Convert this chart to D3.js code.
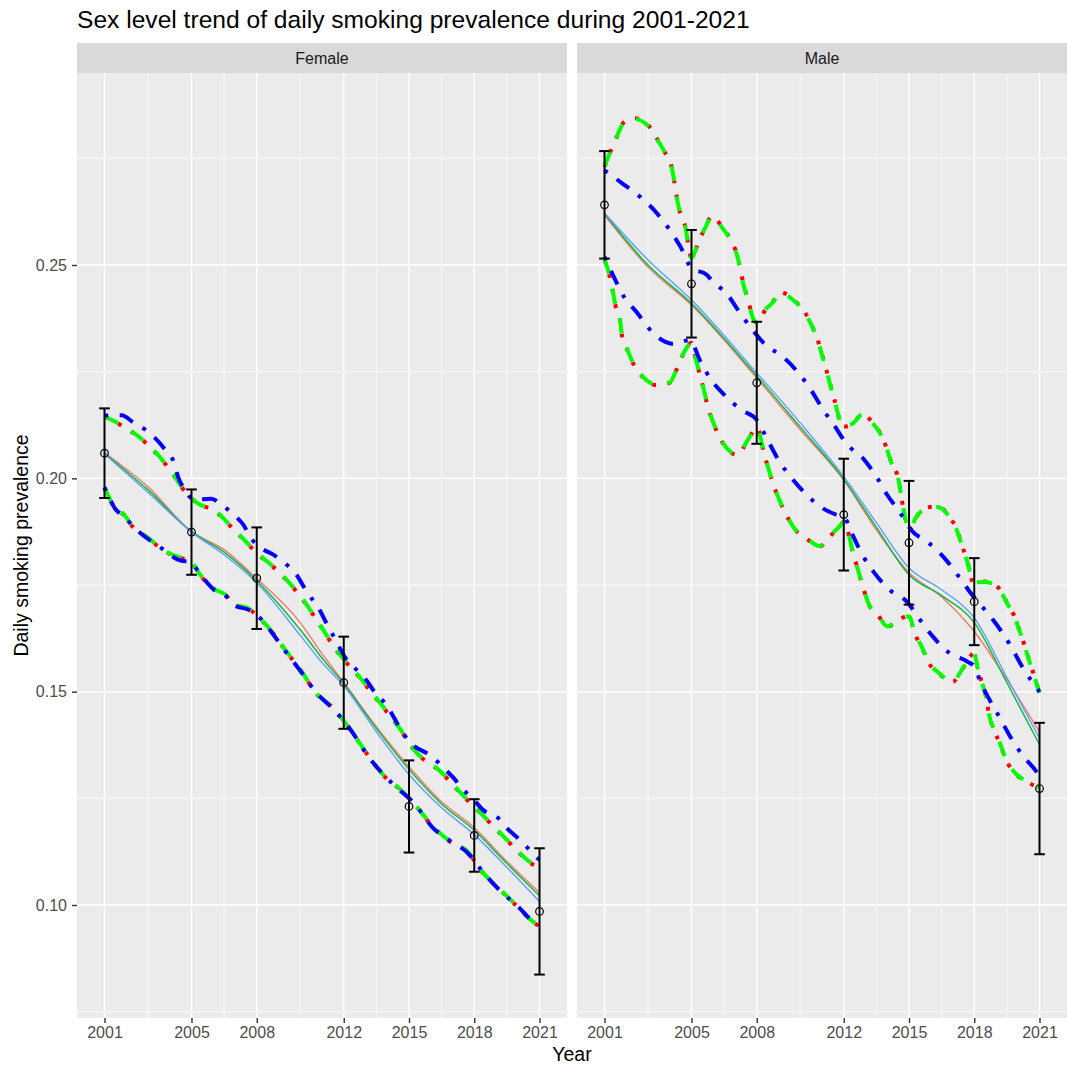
<!DOCTYPE html>
<html>
<head>
<meta charset="utf-8">
<script src="https://cdn.jsdelivr.net/npm/d3@7"></script>
<style>
  body { margin: 0; background: #ffffff; }
  text { font-family: "Liberation Sans", Arial, Helvetica, sans-serif; }
</style>
</head>
<body>
<svg id="chart" width="1067" height="1068"></svg>
<script>
// ---------------- data ----------------
const panels = ["Female", "Male"];
const surveyYears = [2001, 2005, 2008, 2012, 2015, 2018, 2021];
const yTicks = [0.10, 0.15, 0.20, 0.25];

// survey point estimates with 95% intervals
const femaleEstimate = [0.2059, 0.1874, 0.1766, 0.1521, 0.1231, 0.1163, 0.0985];
const femaleLower    = [0.1954, 0.1774, 0.1647, 0.1413, 0.1123, 0.1078, 0.0837];
const femaleUpper    = [0.2164, 0.1974, 0.1885, 0.1629, 0.1339, 0.1248, 0.1133];
const maleEstimate   = [0.2641, 0.2456, 0.2224, 0.1915, 0.1849, 0.1711, 0.1273];
const maleLower      = [0.2515, 0.2330, 0.2081, 0.1784, 0.1704, 0.1609, 0.1119];
const maleUpper      = [0.2767, 0.2582, 0.2367, 0.2046, 0.1994, 0.1813, 0.1427];

// fitted trends, [year, prevalence]
const femaleFitRed = [[2001,.2060],[2003,.1980],[2005,.1875],[2006.5,.1833],[2008,.1765],[2010,.1662],[2011,.1589],[2012,.1522],[2013.5,.1418],[2015,.1324],[2016.5,.1242],[2018,.1181],[2019.5,.1102],[2021,.1029]];
const femaleFitGreen = [[2001,.2059],[2003,.1973],[2005,.1875],[2006.5,.1827],[2008,.1760],[2010,.1645],[2011,.1579],[2012,.1519],[2013.5,.1414],[2015,.1318],[2016.5,.1237],[2018,.1175],[2019.5,.1097],[2021,.1022]];
const femaleFitBlue = [[2001,.2057],[2003,.1967],[2005,.1874],[2006.5,.1821],[2008,.1755],[2010,.1632],[2011,.1568],[2012,.1514],[2013.5,.1406],[2015,.1306],[2016.5,.1228],[2018,.1165],[2019.5,.1088],[2021,.1008]];

const maleFitRed = [[2001,.2617],[2003,.2495],[2005,.2406],[2008,.2235],[2010,.2114],[2012,.1996],[2013.5,.1879],[2015,.1779],[2016.5,.1722],[2018,.1641],[2019.5,.1528],[2021,.1406]];
const maleFitGreen = [[2001,.2620],[2003,.2500],[2005,.2410],[2008,.2240],[2010,.2120],[2012,.1998],[2013.5,.1885],[2015,.1774],[2016.5,.1725],[2018,.1662],[2019.5,.1521],[2021,.1376]];
const maleFitBlue = [[2001,.2622],[2003,.2512],[2005,.2418],[2008,.2247],[2010,.2130],[2012,.2004],[2013.5,.1896],[2015,.1790],[2016.5,.1739],[2018,.1673],[2019.5,.1533],[2021,.1391]];

// confidence limits of the fitted trends, [year, prevalence]
const femaleBandRedUpper = [[2001,.2144],[2001.74,.2125],[2002.9,.2083],[2003.9,.2027],[2004.8,.1963],[2005.3,.1940],[2006.0,.1926],[2007.0,.1877],[2008.0,.1825],[2009.1,.1776],[2010.1,.1717],[2010.9,.1656],[2011.7,.1594],[2012.7,.1535],[2013.6,.1477],[2014.5,.1418],[2015.3,.1359],[2016.45,.1312],[2017.45,.1258],[2018.5,.1204],[2019.5,.1152],[2020.6,.1098],[2021,.1085]];
const femaleBandRedLower = [[2001,.1977],[2001.5,.1930],[2001.9,.1914],[2002.3,.1886],[2003,.1860],[2003.5,.1839],[2004,.1823],[2004.5,.1813],[2004.95,.1806],[2005.4,.1773],[2006.1,.1738],[2006.6,.1725],[2006.9,.1706],[2007.7,.1692],[2008.2,.1668],[2008.7,.1640],[2009.3,.1598],[2010,.1551],[2010.8,.1492],[2011.5,.1462],[2012.3,.1410],[2013.1,.1352],[2013.8,.1305],[2014.6,.1270],[2015.2,.1239],[2016.1,.1183],[2016.9,.1148],[2017.7,.1124],[2018.4,.1075],[2019.2,.1035],[2020,.0995],[2020.7,.0960],[2021,.0950]];
const femaleBandGreenUpper = [[2001,.2145],[2001.74,.2126],[2002.9,.2084],[2003.9,.2028],[2004.8,.1964],[2005.3,.1941],[2006.0,.1927],[2007.0,.1878],[2008.0,.1826],[2009.1,.1777],[2010.1,.1718],[2010.9,.1657],[2011.7,.1595],[2012.7,.1536],[2013.6,.1478],[2014.5,.1419],[2015.3,.1360],[2016.45,.1313],[2017.45,.1259],[2018.5,.1205],[2019.5,.1153],[2020.6,.1099],[2021,.1086]];
const femaleBandGreenLower = [[2001,.1978],[2001.5,.1931],[2001.9,.1915],[2002.3,.1887],[2003,.1861],[2003.5,.1840],[2004,.1824],[2004.5,.1814],[2004.95,.1807],[2005.4,.1774],[2006.1,.1739],[2006.6,.1726],[2006.9,.1707],[2007.7,.1693],[2008.2,.1669],[2008.7,.1641],[2009.3,.1599],[2010,.1552],[2010.8,.1493],[2011.5,.1463],[2012.3,.1411],[2013.1,.1353],[2013.8,.1306],[2014.6,.1271],[2015.2,.1240],[2016.1,.1184],[2016.9,.1149],[2017.7,.1125],[2018.4,.1076],[2019.2,.1036],[2020,.0996],[2020.7,.0961],[2021,.0951]];
const femaleBandBlueUpper = [[2001,.2147],[2001.8,.2148],[2002.3,.2132],[2002.9,.2113],[2003.7,.2073],[2004.2,.2036],[2004.4,.2001],[2004.7,.1973],[2005.1,.1950],[2005.9,.1952],[2006.4,.1938],[2006.9,.1916],[2007.4,.1890],[2007.7,.1862],[2008.2,.1837],[2008.8,.1820],[2009.3,.1801],[2009.8,.1776],[2010.3,.1734],[2010.9,.1691],[2011.2,.1661],[2011.5,.1633],[2012.2,.1570],[2012.7,.1546],[2013.1,.1523],[2013.45,.1497],[2013.9,.1473],[2014.7,.1405],[2014.95,.1387],[2016.1,.1346],[2016.6,.1321],[2017.05,.1298],[2017.5,.1270],[2017.9,.1251],[2018.4,.1223],[2019.1,.1204],[2019.5,.1180],[2020.0,.1157],[2020.45,.1134],[2020.9,.1110],[2021,.1106]];
const femaleBandBlueLower = [[2001,.1979],[2001.5,.1928],[2001.9,.1911],[2002.3,.1888],[2003,.1858],[2003.5,.1841],[2004,.1821],[2004.5,.1807],[2004.95,.1804],[2005.4,.1775],[2006.1,.1736],[2006.6,.1723],[2006.9,.1704],[2007.7,.1690],[2008.2,.1670],[2008.7,.1638],[2009.3,.1596],[2010,.1549],[2010.8,.1494],[2011.5,.1460],[2012.3,.1412],[2013.1,.1350],[2013.8,.1307],[2014.6,.1268],[2015.2,.1241],[2016.1,.1181],[2016.9,.1150],[2017.7,.1122],[2018.4,.1077],[2019.2,.1033],[2020,.0997],[2020.7,.0962],[2021,.0955]];

const maleBandRedUpper = [[2001,.2730],[2001.3,.2769],[2001.6,.2804],[2001.9,.2835],[2002.4,.2844],[2003.0,.2828],[2003.4,.2797],[2003.8,.2762],[2004.1,.2727],[2004.35,.2652],[2004.5,.2617],[2004.75,.2582],[2004.85,.2547],[2005.0,.2516],[2005.3,.2550],[2005.6,.2585],[2005.95,.2615],[2006.4,.2589],[2006.8,.2559],[2007.1,.2523],[2007.4,.2453],[2007.6,.2418],[2007.85,.2372],[2008.0,.2365],[2008.4,.2395],[2008.7,.2411],[2009.1,.2436],[2009.7,.2418],[2010.2,.2390],[2010.8,.2324],[2011.2,.2254],[2011.6,.2179],[2011.95,.2121],[2012.4,.2127],[2012.85,.2151],[2013.3,.2132],[2013.7,.2104],[2013.95,.2074],[2014.2,.2036],[2014.5,.2001],[2014.75,.1926],[2015.0,.1879],[2015.35,.1910],[2015.8,.1931],[2016.3,.1934],[2016.85,.1911],[2017.2,.1879],[2017.5,.1833],[2017.7,.1802],[2017.95,.1755],[2018.5,.1758],[2019.1,.1744],[2019.5,.1709],[2019.85,.1676],[2020.1,.1641],[2020.55,.1570],[2021,.1498]];
const maleBandRedLower = [[2001,.2512],[2001.2,.2481],[2001.35,.2446],[2001.5,.2406],[2001.7,.2376],[2001.8,.2336],[2002.05,.2301],[2002.35,.2266],[2002.75,.2238],[2003.35,.2219],[2004.0,.2224],[2004.35,.2259],[2004.65,.2294],[2005.0,.2318],[2005.2,.2278],[2005.4,.2240],[2005.6,.2200],[2005.75,.2167],[2005.95,.2137],[2006.5,.2078],[2007.1,.2055],[2007.6,.2090],[2008.0,.2120],[2008.35,.2055],[2008.8,.1980],[2009.35,.1915],[2009.7,.1884],[2010.3,.1858],[2010.9,.1840],[2011.3,.1861],[2011.8,.1886],[2012.0,.1898],[2012.45,.1821],[2012.85,.1751],[2013.2,.1699],[2013.5,.1685],[2014.0,.1652],[2014.55,.1669],[2015.0,.1678],[2015.25,.1638],[2015.6,.1603],[2015.9,.1568],[2016.35,.1544],[2017.0,.1523],[2017.5,.1556],[2018.0,.1590],[2018.15,.1556],[2018.35,.1521],[2018.55,.1486],[2018.7,.1441],[2018.9,.1411],[2019.2,.1376],[2019.45,.1341],[2019.85,.1310],[2020.4,.1289],[2021,.1275]];
const maleBandGreenUpper = [[2001,.2731],[2001.3,.2770],[2001.6,.2805],[2001.9,.2834],[2002.4,.2842],[2003.0,.2826],[2003.4,.2796],[2003.8,.2761],[2004.1,.2726],[2004.35,.2651],[2004.5,.2616],[2004.75,.2581],[2004.85,.2546],[2005.0,.2517],[2005.3,.2551],[2005.6,.2584],[2005.95,.2613],[2006.4,.2588],[2006.8,.2558],[2007.1,.2522],[2007.4,.2452],[2007.6,.2417],[2007.85,.2373],[2008.0,.2366],[2008.4,.2396],[2008.7,.2410],[2009.1,.2434],[2009.7,.2417],[2010.2,.2389],[2010.8,.2323],[2011.2,.2253],[2011.6,.2178],[2011.95,.2122],[2012.4,.2128],[2012.85,.2150],[2013.3,.2131],[2013.7,.2103],[2013.95,.2073],[2014.2,.2035],[2014.5,.2000],[2014.75,.1927],[2015.0,.1880],[2015.35,.1911],[2015.8,.1930],[2016.3,.1933],[2016.85,.1910],[2017.2,.1878],[2017.5,.1832],[2017.7,.1801],[2017.95,.1756],[2018.5,.1757],[2019.1,.1743],[2019.5,.1708],[2019.85,.1675],[2020.1,.1640],[2020.55,.1569],[2021,.1497]];
const maleBandGreenLower = [[2001,.2513],[2001.2,.2482],[2001.35,.2447],[2001.5,.2407],[2001.7,.2377],[2001.8,.2337],[2002.05,.2302],[2002.35,.2267],[2002.75,.2239],[2003.35,.2220],[2004.0,.2225],[2004.35,.2260],[2004.65,.2295],[2005.0,.2317],[2005.2,.2279],[2005.4,.2241],[2005.6,.2201],[2005.75,.2168],[2005.95,.2138],[2006.5,.2079],[2007.1,.2056],[2007.6,.2091],[2008.0,.2119],[2008.35,.2056],[2008.8,.1981],[2009.35,.1916],[2009.7,.1885],[2010.3,.1859],[2010.9,.1841],[2011.3,.1862],[2011.8,.1887],[2012.0,.1897],[2012.45,.1822],[2012.85,.1752],[2013.2,.1700],[2013.5,.1686],[2014.0,.1653],[2014.55,.1670],[2015.0,.1677],[2015.25,.1639],[2015.6,.1604],[2015.9,.1569],[2016.35,.1545],[2017.0,.1524],[2017.5,.1557],[2018.0,.1589],[2018.15,.1557],[2018.35,.1522],[2018.55,.1487],[2018.7,.1442],[2018.9,.1412],[2019.2,.1377],[2019.45,.1342],[2019.85,.1311],[2020.4,.1290],[2021,.1276]];
const maleBandBlueUpper = [[2001,.2722],[2001.8,.2692],[2002.7,.2657],[2003.4,.2622],[2004.0,.2582],[2004.5,.2542],[2005.0,.2493],[2005.7,.2477],[2006.0,.2460],[2006.6,.2434],[2007.2,.2390],[2007.8,.2348],[2008.4,.2313],[2009.2,.2285],[2010.0,.2242],[2010.5,.2207],[2011.0,.2165],[2011.6,.2121],[2012.1,.2083],[2012.95,.2043],[2013.5,.2004],[2014.0,.1961],[2014.6,.1919],[2015.1,.1879],[2015.9,.1849],[2016.7,.1809],[2017.3,.1769],[2017.9,.1727],[2018.6,.1685],[2019.2,.1645],[2019.7,.1605],[2020.2,.1559],[2021,.1500]];
const maleBandBlueLower = [[2001,.2519],[2001.45,.2470],[2001.9,.2425],[2002.5,.2388],[2003.15,.2345],[2003.8,.2320],[2004.2,.2315],[2004.9,.2324],[2005.45,.2270],[2005.9,.2231],[2006.5,.2196],[2007.3,.2160],[2008.0,.2137],[2008.5,.2090],[2009.0,.2043],[2009.6,.2001],[2010.3,.1961],[2011.0,.1931],[2011.65,.1915],[2012.0,.1910],[2012.4,.1868],[2012.85,.1821],[2013.4,.1779],[2014.1,.1739],[2014.9,.1711],[2015.5,.1669],[2016.1,.1629],[2016.85,.1591],[2017.7,.1570],[2018.0,.1559],[2018.3,.1521],[2018.65,.1486],[2019.15,.1441],[2019.65,.1395],[2020.2,.1352],[2020.85,.1313],[2021,.1301]];

// ---------------- layout ----------------
const svg = d3.select("#chart");
const panelTop = 73, panelBottom = 1018, panelWidth = 490;
const panelLefts = [77, 577];
const stripTop = 43;

const x = d3.scaleLinear().domain([1999.736, 2022.264]).range([0, panelWidth]);
const y = d3.scaleLinear().domain([0.07352, 0.2950]).range([panelBottom, panelTop]);

const minorX = [2003, 2006.5, 2010, 2013.5, 2016.5, 2019.5];
const minorY = [0.075, 0.125, 0.175, 0.225, 0.275];

const panelData = {
  Female: {
    est: femaleEstimate, lo: femaleLower, hi: femaleUpper,
    fits: [femaleFitRed, femaleFitGreen, femaleFitBlue],
    bands: [[femaleBandRedLower, femaleBandRedUpper], [femaleBandGreenLower, femaleBandGreenUpper], [femaleBandBlueLower, femaleBandBlueUpper]]
  },
  Male: {
    est: maleEstimate, lo: maleLower, hi: maleUpper,
    fits: [maleFitRed, maleFitGreen, maleFitBlue],
    bands: [[maleBandRedLower, maleBandRedUpper], [maleBandGreenLower, maleBandGreenUpper], [maleBandBlueLower, maleBandBlueUpper]]
  }
};

const fitColors = ["#F8766D", "#00BA38", "#619CFF"];
const bandStyles = [
  { color: "#FF0000", dash: "3.8,11.4" },            // dotted
  { color: "#00FF00", dash: "15.2,15.2" },           // dashed
  { color: "#0000FF", dash: "3.8,11.4,15.2,11.4" }   // dot-dash
];

const line = d3.line()
  .x(d => x(d[0]))
  .y(d => y(d[1]))
  .curve(d3.curveMonotoneX);

// title
svg.append("text")
  .attr("x", 77).attr("y", 28)
  .attr("font-size", 24.6).attr("fill", "#000")
  .text("Sex level trend of daily smoking prevalence during 2001-2021");

panels.forEach((name, i) => {
  const left = panelLefts[i];
  const g = svg.append("g").attr("transform", `translate(${left},0)`);
  const pd = panelData[name];

  // strip
  g.append("rect").attr("x", 0).attr("y", stripTop)
    .attr("width", panelWidth).attr("height", panelTop - stripTop)
    .attr("fill", "#D9D9D9");
  g.append("text").attr("x", panelWidth / 2).attr("y", (stripTop + panelTop) / 2)
    .attr("dy", "0.35em").attr("text-anchor", "middle")
    .attr("font-size", 16).attr("fill", "#1A1A1A").text(name);

  // panel background and grid
  g.append("rect").attr("x", 0).attr("y", panelTop)
    .attr("width", panelWidth).attr("height", panelBottom - panelTop)
    .attr("fill", "#EBEBEB");
  const grid = g.append("g").attr("stroke", "#FFFFFF");
  grid.selectAll("line.minx").data(minorX).join("line")
    .attr("x1", d => x(d)).attr("x2", d => x(d))
    .attr("y1", panelTop).attr("y2", panelBottom).attr("stroke-width", 0.7);
  grid.selectAll("line.miny").data(minorY).join("line")
    .attr("y1", d => y(d)).attr("y2", d => y(d))
    .attr("x1", 0).attr("x2", panelWidth).attr("stroke-width", 0.7);
  grid.selectAll("line.majx").data(surveyYears).join("line")
    .attr("x1", d => x(d)).attr("x2", d => x(d))
    .attr("y1", panelTop).attr("y2", panelBottom).attr("stroke-width", 1.4);
  grid.selectAll("line.majy").data(yTicks).join("line")
    .attr("y1", d => y(d)).attr("y2", d => y(d))
    .attr("x1", 0).attr("x2", panelWidth).attr("stroke-width", 1.4);

  // fitted trend lines
  pd.fits.forEach((fit, k) => {
    g.append("path").datum(fit).attr("d", line)
      .attr("fill", "none").attr("stroke", fitColors[k]).attr("stroke-width", 1.4);
  });

  // confidence limits of the fits
  pd.bands.forEach((pair, k) => {
    pair.forEach(b => {
      g.append("path").datum(b).attr("d", line)
        .attr("fill", "none").attr("stroke", bandStyles[k].color)
        .attr("stroke-width", 4).attr("stroke-dasharray", bandStyles[k].dash)
        .attr("stroke-linecap", "butt");
    });
  });

  // survey estimates with error bars
  const capHalf = (x(2001.245) - x(2001));
  const eb = g.append("g").attr("stroke", "#000").attr("stroke-width", 2).attr("fill", "none");
  surveyYears.forEach((yr, j) => {
    eb.append("line").attr("x1", x(yr)).attr("x2", x(yr))
      .attr("y1", y(pd.lo[j])).attr("y2", y(pd.hi[j]));
    eb.append("line").attr("x1", x(yr) - capHalf).attr("x2", x(yr) + capHalf)
      .attr("y1", y(pd.lo[j])).attr("y2", y(pd.lo[j]));
    eb.append("line").attr("x1", x(yr) - capHalf).attr("x2", x(yr) + capHalf)
      .attr("y1", y(pd.hi[j])).attr("y2", y(pd.hi[j]));
  });
  g.append("g").selectAll("circle").data(surveyYears).join("circle")
    .attr("cx", d => x(d)).attr("cy", (d, j) => y(pd.est[j])).attr("r", 3.8)
    .attr("fill", "none").attr("stroke", "#000").attr("stroke-width", 1.2);

  // x axis
  const xa = g.append("g").attr("transform", `translate(0,${panelBottom})`)
    .call(d3.axisBottom(x).tickValues(surveyYears).tickFormat(d3.format("d")).tickSize(5).tickPadding(4));
  xa.select(".domain").remove();
  xa.selectAll(".tick line").attr("stroke", "#333333").attr("stroke-width", 1.4);
  xa.selectAll(".tick text").attr("fill", "#4D4D4D").attr("font-size", 16)
    .attr("font-family", "'Liberation Sans', Arial, sans-serif");

  // y axis on first panel only
  if (i === 0) {
    const ya = g.append("g")
      .call(d3.axisLeft(y).tickValues(yTicks).tickFormat(d3.format(".2f")).tickSize(5).tickPadding(5));
    ya.select(".domain").remove();
    ya.selectAll(".tick line").attr("stroke", "#333333").attr("stroke-width", 1.4);
    ya.selectAll(".tick text").attr("fill", "#4D4D4D").attr("font-size", 16)
      .attr("font-family", "'Liberation Sans', Arial, sans-serif");
  }
});

// axis titles
svg.append("text").attr("x", (77 + 1067) / 2).attr("y", 1061)
  .attr("text-anchor", "middle").attr("font-size", 19.5).attr("fill", "#000").text("Year");
svg.append("text").attr("transform", `translate(28,${(panelTop + panelBottom) / 2}) rotate(-90)`)
  .attr("text-anchor", "middle").attr("font-size", 19.5).attr("fill", "#000").text("Daily smoking prevalence");
</script>
</body>
</html>
